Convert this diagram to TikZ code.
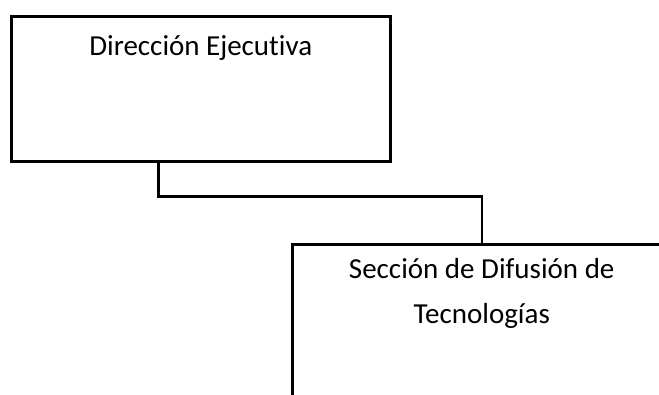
\documentclass[tikz,border=0pt]{standalone}
\usepackage{fontspec}
\setmainfont{Carlito}[Ligatures=NoCommon]
\usetikzlibrary{positioning}
\tikzset{
  unit/.style={draw, line width=2.5pt, minimum width=379pt, inner sep=0pt, anchor=north west},
  title/.style={font=\fontsize{29}{45}\selectfont, align=center, anchor=base},
  link/.style={line width=2.5pt}
}

\begin{document}
\begin{tikzpicture}[x=1pt, y=-1pt]
        \useasboundingbox (0,0) rectangle (659,394);
        \clip (0,0) rectangle (659,394);

        \node[unit, minimum height=145pt,
              label={[title, yshift=-40pt]north:Dirección Ejecutiva}]
              (dir) at (10,15) {};
        \node[unit, minimum height=200pt,
              label={[title, yshift=-80pt]north:Sección de Difusión de\\Tecnologías}]
              (sec) at (291,243) {};

        \draw[link] ([xshift=-42.5pt]dir.south) -- ++(0,34) -| (sec.north);
      \end{tikzpicture}
\end{document}
